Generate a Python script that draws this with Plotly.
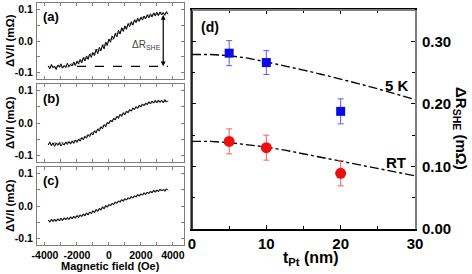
import plotly.graph_objects as go

# ---------------- data ----------------
field_black = list(range(-3800, 3800, 100))   # Oe, 76 samples
field_gray = list(range(-3750, 3750, 200))    # Oe, 38 samples

a_black = [
    -0.078, -0.088, -0.074, -0.085, -0.079, -0.090, -0.076, -0.083, -0.072, -0.086,
    -0.078, -0.084, -0.070, -0.081, -0.074, -0.079, -0.066, -0.077, -0.064, -0.073,
    -0.058, -0.069, -0.052, -0.063, -0.047, -0.058, -0.041, -0.052, -0.036, -0.046,
    -0.026, -0.040, -0.020, -0.031, -0.012, -0.025, -0.003, -0.014, 0.006, -0.004,
    0.016, 0.006, 0.024, 0.013, 0.034, 0.022, 0.042, 0.030, 0.048, 0.037,
    0.055, 0.045, 0.061, 0.050, 0.067, 0.058, 0.072, 0.062, 0.075, 0.066,
    0.079, 0.070, 0.083, 0.073, 0.086, 0.076, 0.089, 0.079, 0.091, 0.080,
    0.092, 0.082, 0.090, 0.081, 0.093, 0.084]
a_gray = [
    -0.084, -0.078, -0.086, -0.076, -0.083, -0.077, -0.082, -0.072, -0.076, -0.064,
    -0.066, -0.053, -0.055, -0.040, -0.043, -0.027, -0.030, -0.012, -0.013, 0.006,
    0.005, 0.024, 0.024, 0.040, 0.039, 0.055, 0.053, 0.066, 0.064, 0.075,
    0.072, 0.081, 0.078, 0.086, 0.083, 0.089, 0.085, 0.090]

b_black = [
    -0.068, -0.058, -0.070, -0.061, -0.072, -0.062, -0.069, -0.060, -0.071, -0.063,
    -0.068, -0.058, -0.066, -0.057, -0.065, -0.055, -0.063, -0.052, -0.060, -0.049,
    -0.056, -0.045, -0.052, -0.041, -0.047, -0.036, -0.042, -0.030, -0.037, -0.024,
    -0.031, -0.018, -0.025, -0.012, -0.018, -0.005, -0.012, 0.002, -0.003, 0.009,
    0.003, 0.015, 0.009, 0.021, 0.014, 0.027, 0.020, 0.032, 0.025, 0.037,
    0.031, 0.042, 0.036, 0.047, 0.041, 0.051, 0.045, 0.055, 0.049, 0.059,
    0.053, 0.062, 0.056, 0.066, 0.059, 0.068, 0.061, 0.070, 0.062, 0.071,
    0.063, 0.070, 0.062, 0.072, 0.064, 0.069]
b_gray = [
    -0.062, -0.067, -0.060, -0.066, -0.059, -0.064, -0.058, -0.061, -0.054, -0.055,
    -0.047, -0.045, -0.038, -0.035, -0.027, -0.023, -0.015, -0.010, -0.003, 0.004,
    0.010, 0.016, 0.021, 0.027, 0.031, 0.037, 0.040, 0.046, 0.049, 0.054,
    0.056, 0.061, 0.062, 0.066, 0.065, 0.068, 0.066, 0.068]

c_black = [
    -0.043, -0.050, -0.041, -0.048, -0.040, -0.047, -0.039, -0.046, -0.037, -0.045,
    -0.036, -0.043, -0.035, -0.042, -0.033, -0.040, -0.031, -0.038, -0.029, -0.036,
    -0.027, -0.033, -0.024, -0.031, -0.021, -0.028, -0.018, -0.024, -0.014, -0.021,
    -0.010, -0.017, -0.007, -0.013, -0.002, -0.009, 0.002, -0.004, 0.005, 0.000,
    0.009, 0.004, 0.013, 0.008, 0.016, 0.011, 0.020, 0.014, 0.023, 0.018,
    0.026, 0.021, 0.030, 0.024, 0.032, 0.027, 0.036, 0.030, 0.038, 0.033,
    0.041, 0.035, 0.043, 0.038, 0.046, 0.040, 0.049, 0.042, 0.050, 0.044,
    0.052, 0.046, 0.051, 0.045, 0.053, 0.048]
c_gray = [
    -0.047, -0.043, -0.046, -0.041, -0.043, -0.038, -0.039, -0.035, -0.035, -0.031,
    -0.030, -0.026, -0.024, -0.020, -0.017, -0.013, -0.009, -0.005, -0.001, 0.004,
    0.007, 0.011, 0.014, 0.018, 0.020, 0.024, 0.027, 0.030, 0.033, 0.036,
    0.038, 0.041, 0.043, 0.046, 0.047, 0.049, 0.050, 0.051]

# panel (a) guide marks
dash_field = [-2000, 3700]
dash_level = -0.080
arrow_field = 3400
arrow_top = 0.087

# panel (d)
t_pt = [5, 10, 20]
dr_5k = [0.281, 0.266, 0.188]
dr_5k_err = [0.020, 0.019, 0.020]
dr_rt = [0.140, 0.130, 0.089]
dr_rt_err = [0.020, 0.020, 0.020]
fit_t = [0, 2.5, 5, 7.5, 10, 12.5, 15, 17.5, 20, 22.5, 25, 27.5, 30]
fit_5k = [0.279, 0.279, 0.277, 0.273, 0.267, 0.261, 0.254, 0.247, 0.240, 0.232, 0.224, 0.216, 0.207]
fit_rt = [0.140, 0.140, 0.138, 0.135, 0.131, 0.126, 0.120, 0.114, 0.108, 0.102, 0.097, 0.091, 0.085]

left_yticks = [-0.1, 0.0, 0.1]
left_yticktext = ["-0.1", "0.0", "0.1"]
left_xticks = [-4000, -2000, 0, 2000, 4000]
left_xticktext = ["-4000", "-2000", "0", "2000", "4000"]
d_xticks = [0, 10, 20, 30]
d_yticks = [0.0, 0.1, 0.2, 0.3]
d_yticktext = ["0.00", "0.10", "0.20", "0.30"]

# ---------------- layout helpers ----------------
W, H = 472, 274
def px(x):
    return x / W
def py(y):
    return 1 - y / H

FONT = "Liberation Sans, Arial, sans-serif"
GRAY = "#7f7f7f"

fig = go.Figure()

panels = [
    ("x", "y", a_black, a_gray),
    ("x2", "y2", b_black, b_gray),
    ("x3", "y3", c_black, c_gray),
]
for xa, ya, blk, gry in panels:
    fig.add_trace(go.Scatter(x=field_gray, y=gry, mode="lines", xaxis=xa, yaxis=ya,
                             line=dict(color="#9a9a9a", width=1.3), showlegend=False))
    fig.add_trace(go.Scatter(x=field_black, y=blk, mode="lines", xaxis=xa, yaxis=ya,
                             line=dict(color="black", width=1), showlegend=False))

# dashed baseline in (a)
fig.add_trace(go.Scatter(x=dash_field, y=[dash_level, dash_level], mode="lines",
                         xaxis="x", yaxis="y", showlegend=False,
                         line=dict(color="black", width=1.3, dash="dash")))

# panel (d)
fig.add_trace(go.Scatter(x=fit_t, y=fit_5k, mode="lines", xaxis="x4", yaxis="y4",
                         showlegend=False, line=dict(color="black", width=1.4, dash="dashdot")))
fig.add_trace(go.Scatter(x=fit_t, y=fit_rt, mode="lines", xaxis="x4", yaxis="y4",
                         showlegend=False, line=dict(color="black", width=1.4, dash="dashdot")))
fig.add_trace(go.Scatter(x=t_pt, y=dr_5k, mode="markers", xaxis="x4", yaxis="y4",
                         showlegend=False,
                         marker=dict(symbol="square", size=9, color="#0a0ae6"),
                         error_y=dict(type="data", array=dr_5k_err, color="#5a5af0",
                                      thickness=1, width=3)))
fig.add_trace(go.Scatter(x=t_pt, y=dr_rt, mode="markers", xaxis="x4", yaxis="y4",
                         showlegend=False,
                         marker=dict(symbol="circle", size=11, color="#ee1010"),
                         error_y=dict(type="data", array=dr_rt_err, color="#f06060",
                                      thickness=1, width=3)))

tickfont_left = dict(family=FONT, size=10.5, color="black", weight="bold")
tickfont_d = dict(family=FONT, size=15, color="black", weight="bold")

left_dom_x = [px(37), px(184)]
left_y_doms = [(3, 79), (84, 162), (167, 245)]

def left_xaxis(anchor, show):
    return dict(domain=left_dom_x, range=[-4500, 4700], anchor=anchor,
                showline=True, linecolor=GRAY, linewidth=1, mirror="ticks",
                ticks="inside", ticklen=3, tickcolor=GRAY, tickwidth=1,
                tickvals=left_xticks, ticktext=left_xticktext,
                showticklabels=show, tickfont=tickfont_left,
                minor=dict(ticks="inside", dtick=1000, tick0=0, ticklen=3,
                           tickcolor=GRAY, showgrid=False),
                showgrid=False, zeroline=False, fixedrange=True)

def left_yaxis(anchor, dom):
    return dict(domain=[py(dom[1]), py(dom[0])], range=[-0.12, 0.12], anchor=anchor,
                showline=True, linecolor=GRAY, linewidth=1, mirror="ticks",
                ticks="inside", ticklen=3, tickcolor=GRAY, tickwidth=1,
                tickvals=left_yticks, ticktext=left_yticktext, tickfont=tickfont_left,
                minor=dict(ticks="inside", dtick=0.05, tick0=0, ticklen=3,
                           tickcolor=GRAY, showgrid=False),
                showgrid=False, zeroline=False, fixedrange=True, ticklabelstandoff=1)

layout = dict(
    width=W, height=H, margin=dict(l=0, r=0, t=0, b=0, autoexpand=False),
    paper_bgcolor="white", plot_bgcolor="white",
    font=dict(family=FONT, color="black"),
    showlegend=False,
    xaxis=left_xaxis("y", False),
    xaxis2=left_xaxis("y2", False),
    xaxis3=left_xaxis("y3", True),
    yaxis=left_yaxis("x", left_y_doms[0]),
    yaxis2=left_yaxis("x2", left_y_doms[1]),
    yaxis3=left_yaxis("x3", left_y_doms[2]),
    xaxis4=dict(domain=[px(192), px(415)], range=[0, 30], anchor="y4",
                showline=True, linecolor="black", linewidth=1.5, mirror="ticks",
                ticks="inside", ticklen=4, tickcolor="black", tickwidth=1,
                tickvals=d_xticks, tickfont=tickfont_d,
                minor=dict(ticks="inside", dtick=5, tick0=0, ticklen=3,
                           tickcolor="black", showgrid=False),
                showgrid=False, zeroline=False, fixedrange=True),
    yaxis4=dict(domain=[py(229), py(10)], range=[0, 0.35], anchor="x4", side="right",
                showline=True, linecolor=GRAY, linewidth=2, mirror="ticks",
                ticks="inside", ticklen=4, tickcolor="black", tickwidth=1,
                tickvals=d_yticks, ticktext=d_yticktext, tickfont=tickfont_d,
                minor=dict(ticks="inside", dtick=0.05, tick0=0, ticklen=3,
                           tickcolor="black", showgrid=False),
                showgrid=False, zeroline=False, fixedrange=True, ticklabelstandoff=2),
)
fig.update_layout(**layout)

# border colours of panel (d): left black, top gray
fig.add_shape(type="line", xref="paper", yref="paper", x0=px(192), x1=px(192),
              y0=py(229), y1=py(10), line=dict(color="black", width=1.5), layer="above")
fig.add_shape(type="line", xref="paper", yref="paper", x0=px(192), x1=px(415),
              y0=py(10), y1=py(10), line=dict(color=GRAY, width=2), layer="above")

ann = []
bold = dict(family=FONT, color="black", weight="bold")
C = dict(xref="paper", yref="paper", showarrow=False, xanchor="center", yanchor="middle")
# panel letters
for txt, xx, yy in [("(a)", 51, 16), ("(b)", 51, 98), ("(c)", 51, 180)]:
    ann.append(dict(C, text=txt, x=px(xx), y=py(yy), font=dict(bold, size=13)))
# left y titles
for dom in left_y_doms:
    ann.append(dict(C, text="ΔV/I (mΩ)", x=px(10), y=py((dom[0] + dom[1]) / 2),
                    textangle=-90, font=dict(bold, size=11.5)))
# left x title
ann.append(dict(C, text="Magnetic field (Oe)", x=px(110), y=py(265.5),
                font=dict(bold, size=11)))
# ΔR_SHE arrow in (a)
ann.append(dict(x=arrow_field, y=dash_level, ax=arrow_field, ay=arrow_top,
                xref="x", yref="y", axref="x", ayref="y", text="", showarrow=True,
                arrowhead=2, arrowside="end+start", arrowsize=0.8, arrowwidth=1.2,
                arrowcolor="black"))
ann.append(dict(text="ΔR<sub>SHE</sub>", x=2380, y=-0.012, xref="x", yref="y",
                xanchor="center", yanchor="middle",
                showarrow=False, font=dict(family=FONT, size=10, color="#444444")))
# panel (d) texts
ann.append(dict(C, text="(d)", x=px(210), y=py(27), font=dict(bold, size=14)))
ann.append(dict(C, text="5 K", x=px(397), y=py(86), font=dict(bold, size=15)))
ann.append(dict(C, text="RT", x=px(396), y=py(162), font=dict(bold, size=15)))
ann.append(dict(C, text="t<sub>Pt</sub> (nm)", x=px(311), y=py(258), font=dict(bold, size=16)))
ann.append(dict(C, text="ΔR<sub>SHE</sub> (mΩ)", x=px(461), y=py(128), textangle=90,
                font=dict(bold, size=15)))
fig.update_layout(annotations=ann)

fig.write_html("out.html", config={"displayModeBar": False},
               post_script="document.body.style.margin='0';document.body.style.padding='0';")
